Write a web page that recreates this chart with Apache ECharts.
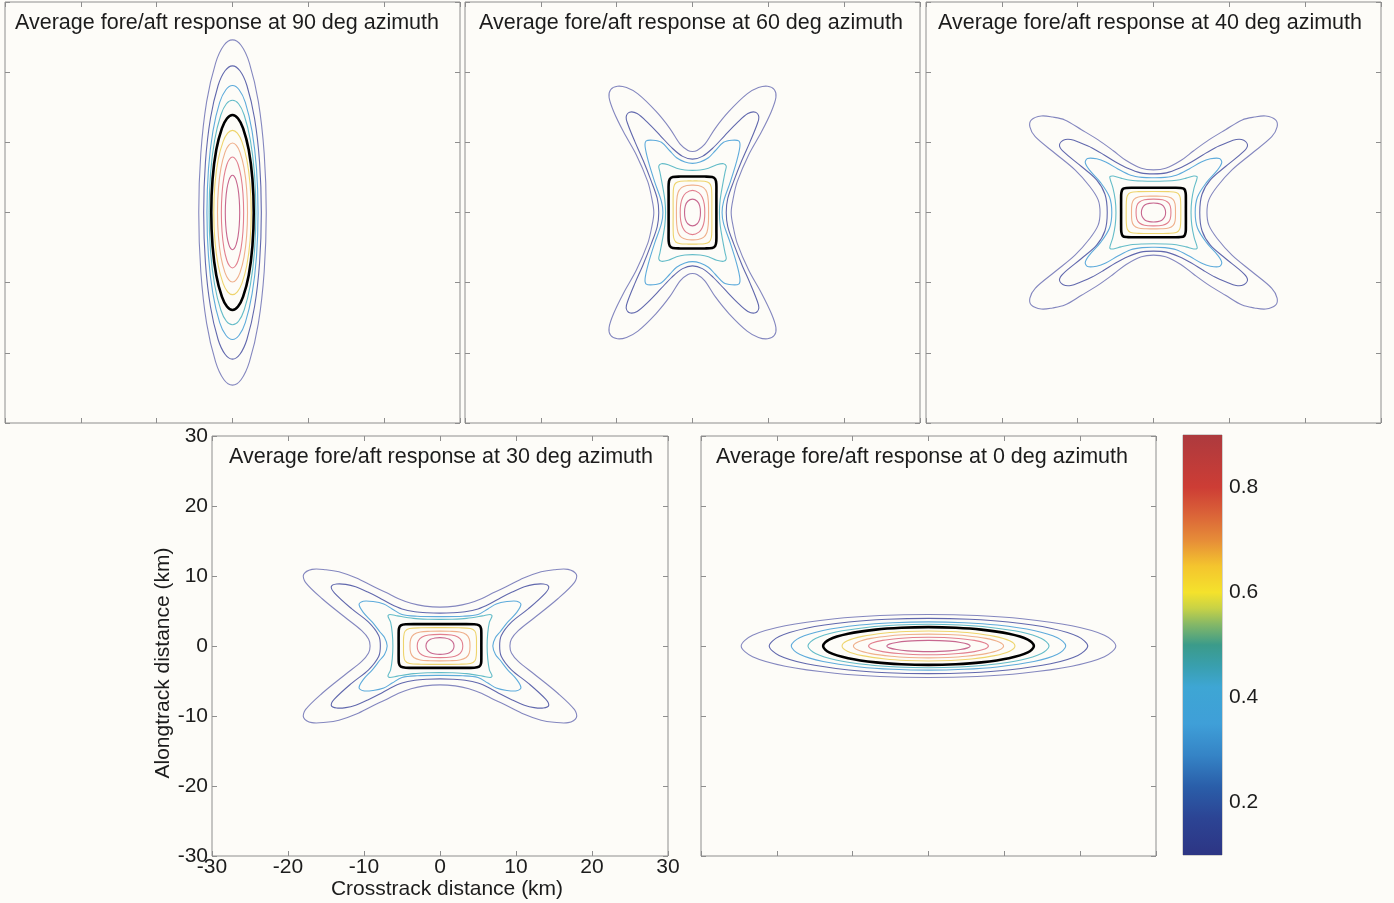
<!DOCTYPE html>
<html>
<head>
<meta charset="utf-8">
<script src="https://cdn.jsdelivr.net/npm/echarts@6/dist/echarts.min.js"></script>
<style>
html,body{margin:0;padding:0;background:#fdfcf8;}
#c{width:1394px;height:903px;}
</style>
</head>
<body>
<div id="c"></div>
<script>
// ---------------- DATA (km) ----------------
// Each contour is given for one quadrant (x>=0, y>=0), from the crossing of the
// x axis to the crossing of the y axis; the footprints are symmetric about both axes.
const contourLevels = [0.1, 0.2, 0.3, 0.4, 0.5, 0.6, 0.7, 0.8, 0.9];
const axisTicks = [-30, -20, -10, 0, 10, 20, 30];
const colorbarRange = [0.1, 0.9];
const colorbarTicks = [0.2, 0.4, 0.6, 0.8];
const panelTitles = [
  'Average fore/aft response at 90 deg azimuth',
  'Average fore/aft response at 60 deg azimuth',
  'Average fore/aft response at 40 deg azimuth',
  'Average fore/aft response at 30 deg azimuth',
  'Average fore/aft response at 0 deg azimuth'
];
const xAxisName = 'Crosstrack distance (km)';
const yAxisName = 'Alongtrack distance (km)';

const az90 = [
  [[4.45,0],[4.18,8.4],[3.41,15.8],[2.23,21.3],[1.15,23.8],[0,24.6]],
  [[3.8,0],[3.57,7.15],[2.91,13.4],[1.9,18.1],[0.98,20.2],[0,20.9]],
  [[3.37,0],[3.17,6.2],[2.58,11.6],[1.69,15.7],[0.87,17.5],[0,18.1]],
  [[3.08,0],[2.9,5.5],[2.36,10.3],[1.54,13.9],[0.8,15.5],[0,16.0]],
  [[2.8,0],[2.63,4.75],[2.14,8.94],[1.4,12.0],[0.73,13.4],[0,13.9]],
  [[2.47,0],[2.32,4.0],[1.89,7.52],[1.24,10.1],[0.64,11.3],[0,11.7]],
  [[1.98,0],[1.86,3.39],[1.52,6.37],[0.99,8.57],[0.51,9.56],[0,9.9]],
  [[1.47,0],[1.38,2.7],[1.13,5.08],[0.74,6.84],[0.38,7.63],[0,7.9]],
  [[0.95,0],[0.89,1.81],[0.73,3.41],[0.48,4.59],[0.25,5.12],[0,5.3]]
];
const az60 = [
  [[5.1,0],[5.4,2.2],[5.9,4.4],[7.4,8.2],[9.1,11.5],[10.4,14.4],[11.0,16.4],[10.8,17.5],[9.9,18.0],[8.7,17.8],[7.2,16.9],[4.8,14.4],[3.0,12.0],[1.6,9.7],[0.6,8.85],[0,8.7]],
  [[4.45,0],[4.65,2.0],[5.45,4.5],[6.5,7.4],[7.6,10.1],[8.5,12.5],[8.75,13.6],[8.3,14.3],[7.3,14.1],[5.9,12.8],[4.2,10.9],[2.7,9.2],[1.3,8.0],[0,7.6]],
  [[3.9,0],[4.1,1.6],[5.0,4.4],[5.8,7.2],[6.25,9.4],[6.1,10.2],[5.2,10.3],[4.1,10.0],[3.0,8.8],[2.1,7.8],[1.0,7.2],[0,7.0]],
  [[3.55,0],[3.65,1.8],[3.95,3.8],[4.3,5.8],[4.45,6.6],[4.1,6.95],[3.2,6.8],[2.1,6.3],[1.0,6.05],[0,6.0]],
  [[3.15,0],[3.15,2.5],[3.14,4.1],[3.0,4.75],[2.6,5.05],[1.6,5.12],[0,5.12]],
  [[2.55,0],[2.55,2.4],[2.48,3.6],[2.2,4.2],[1.6,4.45],[0.8,4.5],[0,4.5]],
  [[2.12,0],[2.08,1.7],[1.9,2.85],[1.45,3.55],[0.75,3.85],[0,3.9]],
  [[1.62,0],[1.55,1.2],[1.3,2.15],[0.85,2.8],[0,3.15]],
  [[1.05,0],[0.95,0.95],[0.62,1.6],[0,1.9]]
];
const az40 = [
  [[7.05,0],[7.3,1.8],[8.4,3.7],[10.35,6.07],[13.0,8.45],[15.6,10.8],[16.3,12.2],[16.1,13.2],[14.8,13.75],[13.3,13.6],[11.7,13.2],[9.5,11.8],[7.3,10.35],[5.3,8.8],[3.6,7.4],[1.6,6.3],[0,6.07]],
  [[6.1,0],[6.4,2.6],[7.5,4.65],[9.5,6.55],[11.9,8.7],[12.4,9.6],[11.9,10.3],[10.9,10.4],[9.6,9.9],[8.1,9.2],[6.5,8.2],[5.0,7.2],[3.4,6.3],[1.7,5.65],[0,5.5]],
  [[5.5,0],[5.8,2.2],[7.0,4.3],[8.4,6.0],[9.0,7.1],[8.7,7.7],[7.5,7.65],[6.3,7.2],[4.7,6.2],[3.0,5.3],[1.5,5.0],[0,4.95]],
  [[4.95,0],[5.05,1.8],[5.35,3.5],[5.7,4.7],[5.75,5.1],[5.3,5.2],[4.3,4.9],[3.0,4.6],[1.5,4.48],[0,4.45]],
  [[4.27,0],[4.27,1.8],[4.24,2.8],[4.05,3.35],[3.6,3.5],[2.4,3.52],[0,3.52]],
  [[3.6,0],[3.58,1.5],[3.45,2.4],[3.0,2.85],[2.0,2.97],[0,3.0]],
  [[2.9,0],[2.85,1.2],[2.6,1.85],[2.0,2.22],[1.0,2.32],[0,2.33]],
  [[2.3,0],[2.2,0.95],[1.85,1.5],[1.2,1.82],[0,1.9]],
  [[1.6,0],[1.48,0.62],[1.1,1.1],[0.55,1.3],[0,1.35]]
];
const az30 = [
  [[9.2,0],[9.4,1.0],[10.3,2.2],[12.5,4.1],[15.5,6.75],[17.7,9.1],[17.95,10.2],[16.85,10.95],[15.0,10.9],[13.3,10.6],[11.0,9.7],[8.95,8.6],[7.0,7.6],[5.45,6.75],[3.8,6.1],[2.0,5.7],[0,5.55]],
  [[7.85,0],[8.07,1.5],[9.4,3.4],[11.6,5.3],[13.9,7.6],[14.3,8.5],[13.6,8.85],[12.4,8.8],[11.1,8.45],[9.5,7.7],[8.0,6.9],[6.5,6.0],[5.0,5.3],[3.3,4.9],[1.7,4.75],[0,4.7]],
  [[6.95,0],[7.3,1.2],[7.9,2.0],[8.9,3.4],[10.1,4.8],[10.65,5.95],[10.1,6.4],[8.8,6.35],[7.4,6.0],[6.3,5.3],[5.0,4.5],[3.0,4.25],[0,4.2]],
  [[6.2,0],[6.28,1.8],[6.5,3.4],[6.85,4.3],[6.6,4.5],[5.6,4.3],[3.5,3.95],[1.5,3.82],[0,3.8]],
  [[5.44,0],[5.44,1.6],[5.4,2.5],[5.15,2.95],[4.5,3.1],[2.5,3.12],[0,3.12]],
  [[4.8,0],[4.78,1.3],[4.6,2.1],[4.0,2.5],[2.5,2.6],[0,2.62]],
  [[3.95,0],[3.85,1.0],[3.45,1.65],[2.6,2.0],[1.3,2.1],[0,2.12]],
  [[3.0,0],[2.85,0.75],[2.35,1.3],[1.5,1.58],[0,1.66]],
  [[1.85,0],[1.7,0.55],[1.25,0.95],[0.65,1.15],[0,1.2]]
];
const az0 = [
  [[24.7,0],[23.2,1.54],[18.9,2.89],[12.35,3.9],[6.4,4.35],[0,4.5]],
  [[21.0,0],[19.7,1.35],[16.1,2.54],[10.5,3.42],[5.44,3.82],[0,3.95]],
  [[18.1,0],[17.0,1.18],[13.9,2.22],[9.05,2.99],[4.69,3.33],[0,3.45]],
  [[15.9,0],[14.9,1.06],[12.2,1.99],[7.95,2.68],[4.12,2.99],[0,3.1]],
  [[13.9,0],[13.1,0.92],[10.6,1.74],[6.95,2.34],[3.6,2.61],[0,2.7]],
  [[11.4,0],[10.7,0.74],[8.73,1.38],[5.7,1.86],[2.95,2.08],[0,2.15]],
  [[9.9,0],[9.3,0.58],[7.58,1.09],[4.95,1.47],[2.56,1.64],[0,1.7]],
  [[7.9,0],[7.43,0.43],[6.05,0.8],[3.95,1.08],[2.05,1.21],[0,1.25]],
  [[5.5,0],[5.17,0.27],[4.21,0.51],[2.75,0.69],[1.42,0.77],[0,0.8]]
];
// colormap of the colour bar: [value, colour]
const colormap = [
  [0.10,'#2d3584'],[0.17,'#2c4494'],[0.23,'#2a5ea9'],[0.29,'#3584c6'],
  [0.35,'#3f9fd8'],[0.42,'#3ea6d4'],[0.46,'#399fae'],[0.50,'#3b9b8a'],
  [0.54,'#86b866'],[0.57,'#c8d246'],[0.60,'#f4e22c'],[0.65,'#f4c52e'],
  [0.70,'#e68c38'],[0.75,'#da6238'],[0.80,'#cd3d35'],[0.90,'#ad3a3e']
];

// ---------------- STYLE / LAYOUT ----------------
const levelColors = ['#8487bf','#6168ad','#5eabdb','#64bcc8','#000000','#eed46c','#efb08c','#e2808f','#c7678f'];
const FONT = "'Liberation Sans', Arial, Helvetica, sans-serif";
const TXT = '#1c1c1c';
const FRAME = '#8e8e8e';
const BG = '#fdfcf8';
const layout = [
  {left:5,   top:2,   width:455, height:421},
  {left:465, top:2,   width:455, height:421},
  {left:926, top:2,   width:455, height:421},
  {left:212, top:436, width:456, height:420},
  {left:701, top:436, width:455, height:420}
];
const titleCenters = [227, 691, 1150, 441, 922];
const cbLayout = {left:1183, top:435, width:39, height:420};
const labelledPanel = 3;
const panelData = [az90, az60, az40, az30, az0];

function closeLoop(q) {
  const pts = [];
  q.forEach(p => pts.push([p[0], p[1]]));
  for (let i = q.length - 2; i >= 0; i--) pts.push([-q[i][0], q[i][1]]);
  for (let i = 1; i < q.length; i++) pts.push([-q[i][0], -q[i][1]]);
  for (let i = q.length - 2; i >= 1; i--) pts.push([q[i][0], -q[i][1]]);
  return pts;
}

const tickStyle = {show:true, inside:true, length:5, lineStyle:{color:FRAME, width:1}};
const labelStyle = {color:TXT, fontSize:21, fontFamily:FONT};

function xAxisCfg(gi, pos, labelled) {
  const a = {
    type:'value', gridIndex:gi, position:pos, min:axisTicks[0], max:axisTicks[axisTicks.length-1],
    interval:axisTicks[1]-axisTicks[0],
    axisLine:{show:false, onZero:false}, splitLine:{show:false}, axisTick:tickStyle,
    axisLabel:labelled ? Object.assign({show:true, margin:1}, labelStyle) : {show:false}
  };
  if (labelled) {
    a.name = xAxisName; a.nameLocation = 'middle'; a.nameGap = 21;
    a.nameTextStyle = {color:TXT, fontSize:21, fontFamily:FONT, padding:[0,0,0,14]};
  }
  return a;
}
function yAxisCfg(gi, pos, labelled) {
  const a = {
    type:'value', gridIndex:gi, position:pos, min:axisTicks[0], max:axisTicks[axisTicks.length-1],
    interval:axisTicks[1]-axisTicks[0],
    axisLine:{show:false, onZero:false}, splitLine:{show:false}, axisTick:tickStyle,
    axisLabel:labelled ? Object.assign({show:true, margin:4}, labelStyle) : {show:false}
  };
  if (labelled) {
    a.name = yAxisName; a.nameLocation = 'middle'; a.nameGap = 30;
    a.nameTextStyle = {color:TXT, fontSize:21, fontFamily:FONT, padding:[0,34,0,0]};
  }
  return a;
}

function contourSeries(i, contours) {
  return {
    type:'custom', coordinateSystem:'cartesian2d', xAxisIndex:2*i, yAxisIndex:2*i,
    animation:false, silent:true, clip:true,
    data:contours.map((c, k) => [0, 0, k]),
    encode:{x:0, y:1},
    renderItem:function (params, api) {
      const k = api.value(2);
      const pts = closeLoop(contours[k]).map(p => api.coord(p));
      const isBold = contourLevels[k] === 0.5;
      return {
        type:'polygon', z2:isBold ? 10 : 1,
        shape:{points:pts, smooth:0.33},
        style:{fill:'none', stroke:levelColors[k], lineWidth:isBold ? 2.6 : 1.1}
      };
    }
  };
}

const grids = [], xAxes = [], yAxes = [], series = [], titles = [];
panelData.forEach((d, i) => {
  const L = layout[i];
  grids.push(Object.assign({show:true, borderColor:FRAME, borderWidth:1, backgroundColor:BG}, L));
  const lab = i === labelledPanel;
  xAxes.push(xAxisCfg(i, 'bottom', lab), xAxisCfg(i, 'top', false));
  yAxes.push(yAxisCfg(i, 'left', lab), yAxisCfg(i, 'right', false));
  series.push(contourSeries(i, d));
  titles.push({
    text:panelTitles[i], left:titleCenters[i], top:L.top + 10, textAlign:'center', padding:0,
    textStyle:{color:TXT, fontSize:21.5, fontWeight:'normal', fontFamily:FONT}
  });
});

// colour bar
const cbGrid = grids.length;
grids.push(Object.assign({show:true, borderColor:'#555', borderWidth:0.5, backgroundColor:'transparent'}, cbLayout));
xAxes.push({type:'value', gridIndex:cbGrid, min:0, max:1, show:false});
const cbTickStyle = {show:true, inside:true, length:4, lineStyle:{color:'#555'}, customValues:colorbarTicks};
yAxes.push({
  type:'value', gridIndex:cbGrid, position:'right', min:colorbarRange[0], max:colorbarRange[1],
  axisLine:{show:false, onZero:false}, splitLine:{show:false}, axisTick:cbTickStyle,
  axisLabel:Object.assign({show:true, margin:7, customValues:colorbarTicks, formatter:v => v.toFixed(1)}, labelStyle)
});
yAxes.push({
  type:'value', gridIndex:cbGrid, position:'left', min:colorbarRange[0], max:colorbarRange[1],
  axisLine:{show:false, onZero:false}, splitLine:{show:false}, axisTick:cbTickStyle, axisLabel:{show:false}
});
const lo = colorbarRange[0], hi = colorbarRange[1];
series.push({
  type:'custom', coordinateSystem:'cartesian2d', xAxisIndex:xAxes.length - 1, yAxisIndex:yAxes.length - 2,
  animation:false, silent:true,
  data:[[0, lo, 1, hi]], encode:{x:[0,2], y:[1,3]},
  renderItem:function (params, api) {
    const p0 = api.coord([api.value(0), api.value(3)]);
    const p1 = api.coord([api.value(2), api.value(1)]);
    const stops = colormap.map(([v, c]) => ({offset:(v - lo) / (hi - lo), color:c}));
    return {
      type:'rect', z2:-1,
      shape:{x:p0[0], y:p0[1], width:p1[0] - p0[0], height:p1[1] - p0[1]},
      style:{fill:new echarts.graphic.LinearGradient(0, 1, 0, 0, stops)}
    };
  }
});

const chart = echarts.init(document.getElementById('c'), null, {renderer:'canvas'});
chart.setOption({
  backgroundColor:BG,
  animation:false,
  title:titles,
  grid:grids,
  xAxis:xAxes,
  yAxis:yAxes,
  series:series
});
</script>
</body>
</html>
